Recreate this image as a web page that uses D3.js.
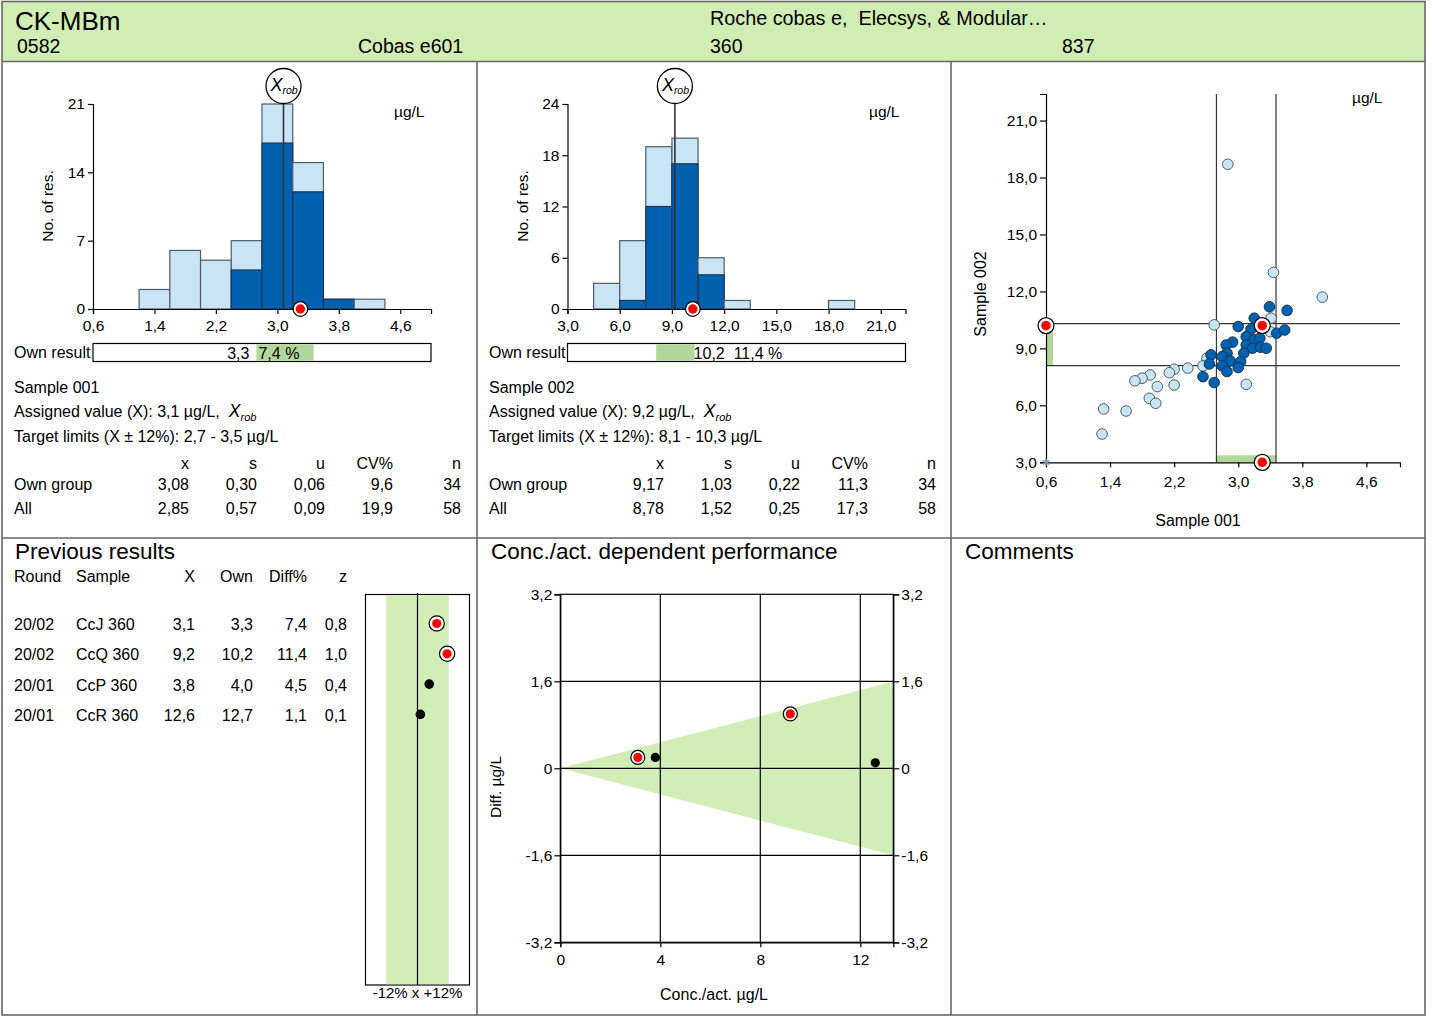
<!DOCTYPE html>
<html>
<head>
<meta charset="utf-8">
<script src="https://cdn.jsdelivr.net/npm/d3@7"></script>
<style>
  body { margin: 0; background: #fff; }
  svg { font-family: "Liberation Sans", Arial, sans-serif; }
  text { white-space: pre; }
</style>
</head>
<body>
<svg id="chart" width="1432" height="1018"></svg>
<script>
// ---- data ----
const analyte = "CK-MBm";
const headerRow1 = ["Roche cobas e,  Elecsys, & Modular…"];
const headerRow2 = ["0582", "Cobas e601", "360", "837"];

// histogram sample 001 (bins 0.4 wide)
const binStart1 = [1.2, 1.6, 2.0, 2.4, 2.8, 3.2, 3.6, 4.0];
const binAll1 = [2, 6, 5, 7, 21, 15, 1, 1];
const binOwn1 = [0, 0, 0, 4, 17, 12, 1, 0];
// histogram sample 002 (bins 1.5 wide)
const binStart2 = [4.5, 6.0, 7.5, 9.0, 10.5, 12.0, 18.0];
const binAll2 = [3, 8, 19, 20, 6, 1, 1];
const binOwn2 = [0, 1, 12, 17, 4, 0, 0];

const sampleNames = ["Sample 001", "Sample 002"];
const assigned = [3.1, 9.2];
const xrob = [3.08, 9.17];
const ownResult = [3.3, 10.2];
const ownPct = [7.4, 11.4];
const limitPct = 12;

const statCols = ["x", "s", "u", "CV%", "n"];
const statDec = [2, 2, 2, 1, 0];
const statsOwn = [[3.08, 0.30, 0.06, 9.6, 34], [9.17, 1.03, 0.22, 11.3, 34]];
const statsAll = [[2.85, 0.57, 0.09, 19.9, 58], [8.78, 1.52, 0.25, 17.3, 58]];

const ticksX1 = [0.6, 1.4, 2.2, 3.0, 3.8, 4.6];
const ticksY1 = [0, 7, 14, 21];
const ticksX2 = [3, 6, 9, 12, 15, 18, 21];
const ticksY2 = [0, 6, 12, 18, 24];

// youden plot
const ownGroupX = [3.39, 3.61, 3.20, 3.00, 3.16, 3.48, 3.58, 2.93, 2.85, 3.10, 3.20, 3.27, 3.10, 3.18,
  3.28, 3.35, 2.86, 2.66, 3.07, 2.80, 2.90, 3.03, 2.64, 2.80, 3.00, 2.86, 2.56, 2.70];
const ownGroupY = [11.19, 11.00, 10.59, 10.15, 10.01, 9.80, 9.97, 9.33, 9.18, 9.62, 9.45, 9.54, 9.18, 9.01,
  9.06, 9.01, 8.75, 8.66, 8.75, 8.57, 8.34, 8.30, 8.18, 8.08, 7.99, 7.78, 7.51, 7.20];
const otherX = [2.87, 3.44, 4.05, 2.70, 3.41, 3.40, 3.10, 2.61, 2.56, 2.37, 2.20, 2.14, 2.20, 1.99,
  1.90, 1.80, 1.71, 1.89, 1.97, 1.32, 1.60, 1.30];
const otherY = [18.7, 13.0, 11.7, 10.24, 10.59, 9.88, 7.11, 8.48, 8.08, 7.96, 7.90, 7.72, 7.07, 6.99,
  7.60, 7.43, 7.29, 6.37, 6.11, 5.81, 5.70, 4.49];
const ticksYouX = [0.6, 1.4, 2.2, 3.0, 3.8, 4.6];
const ticksYouY = [3, 6, 9, 12, 15, 18, 21];

// previous results
const prevRound = ["20/02", "20/02", "20/01", "20/01"];
const prevSample = ["CcJ 360", "CcQ 360", "CcP 360", "CcR 360"];
const prevX = [3.1, 9.2, 3.8, 12.6];
const prevOwn = [3.3, 10.2, 4.0, 12.7];
const prevDiff = [7.4, 11.4, 4.5, 1.1];
const prevZ = [0.8, 1.0, 0.4, 0.1];
const prevCurrent = [true, true, false, false];

const concTicksX = [0, 4, 8, 12];
const concTicksY = [-3.2, -1.6, 0, 1.6, 3.2];

// ---- helpers ----
const svg = d3.select("#chart");
const comma = (v, d) => d3.format("." + d + "f")(v).replace(".", ",").replace("−", "-");
const fmt1 = v => v === 0 ? "0" : comma(v, 1);
const FS = 16;     // body text
const TS = 15.5;   // tick labels
const HS = 22.5;   // panel titles
const GREEN = "#d0eeb6", GREEN2 = "#b3d79b";
const DARK = "#0061b1", LIGHT = "#c8e4f5", BARSTROKE = "#4d5c6b";

function styleAxis(g, size) {
  g.attr("font-family", null).attr("font-size", size);
  g.selectAll("path,line").attr("stroke", "#000").attr("stroke-width", 1.2);
  g.selectAll("text").attr("fill", "#000");
}
function ownMarker(g, cx, cy, ro, ri) {
  g.append("circle").attr("cx", cx).attr("cy", cy).attr("r", ro)
    .attr("fill", "#fff").attr("stroke", "#000").attr("stroke-width", 1.2);
  g.append("circle").attr("cx", cx).attr("cy", cy).attr("r", ri).attr("fill", "#f00");
}
function text(g, x, y, s, size, anchor) {
  return g.append("text").attr("x", x).attr("y", y).attr("font-size", size || FS)
    .attr("text-anchor", anchor || "start").text(s);
}

// ---- header ----
svg.append("rect").attr("x", 2).attr("y", 2).attr("width", 1423).attr("height", 59).attr("fill", "#d0eeb4");
text(svg, 15, 30, analyte, 26);
text(svg, 710, 25, headerRow1[0], 19.8);
[17, 358, 710, 1062].forEach((x, i) => text(svg, x, 53, headerRow2[i], 19.5));

// ---- histograms ----
function drawHist(k, o) {
  const g = svg.append("g");
  const x = d3.scaleLinear().domain(o.domain).range([o.x0, o.x0 + 338]);
  const y = d3.scaleLinear().domain([0, o.yMax]).range([309, 104]);

  o.starts.forEach((s, i) => {
    const bx = x(s), bw = x(s + o.w) - x(s);
    g.append("rect").attr("x", bx).attr("y", y(o.all[i])).attr("width", bw)
      .attr("height", y(0) - y(o.all[i])).attr("fill", LIGHT).attr("stroke", BARSTROKE).attr("stroke-width", 1.2);
    if (o.own[i] > 0)
      g.append("rect").attr("x", bx).attr("y", y(o.own[i])).attr("width", bw)
        .attr("height", y(0) - y(o.own[i])).attr("fill", DARK).attr("stroke", "#1d3650").attr("stroke-width", 1.2);
  });

  // Xrob line and label
  const cx = x(xrob[k]);
  g.append("line").attr("x1", cx).attr("x2", cx).attr("y1", 103).attr("y2", y(0))
    .attr("stroke", "#333").attr("stroke-width", 1.6);
  g.append("circle").attr("cx", cx).attr("cy", 86).attr("r", 17.5)
    .attr("fill", "#fff").attr("stroke", "#000").attr("stroke-width", 1.3);
  g.append("text").attr("x", cx - 13).attr("y", 90.5).attr("font-size", 18).attr("font-style", "italic").text("X");
  g.append("text").attr("x", cx - 1).attr("y", 94).attr("font-size", 10.5).attr("font-style", "italic").text("rob");

  g.append("g").attr("transform", "translate(0,309)")
    .call(d3.axisBottom(x).tickValues(o.ticksX).tickFormat(fmt1).tickSizeOuter(0).tickSize(5).tickPadding(6))
    .call(a => styleAxis(a, TS));
  g.append("g").attr("transform", `translate(${o.x0},0)`)
    .call(d3.axisLeft(y).tickValues(o.ticksY).tickFormat(d3.format("d")).tickSizeOuter(0).tickSize(5).tickPadding(3))
    .call(a => styleAxis(a, TS));

  ownMarker(g, x(ownResult[k]), 309, 7.3, 4.7);

  text(g, o.left + 392, 117, "µg/L", TS);
  g.append("text").attr("transform", `translate(${o.left + 51},206) rotate(-90)`)
    .attr("text-anchor", "middle").attr("font-size", TS).text("No. of res.");

  // own result strip
  const lo = assigned[k] * (1 - limitPct / 100), hi = assigned[k] * (1 + limitPct / 100);
  text(g, o.left + 12, 357.5, "Own result");
  g.append("rect").attr("x", x(o.domain[0])).attr("y", 343.5).attr("width", 338).attr("height", 18)
    .attr("fill", "#fff").attr("stroke", "#000").attr("stroke-width", 1.2);
  g.append("rect").attr("x", x(lo)).attr("y", 344.2).attr("width", x(hi) - x(lo)).attr("height", 16.6).attr("fill", GREEN2);
  if (o.labelAfter) {
    text(g, x(hi) - 1, 358.5, comma(ownResult[k], 1) + "  " + comma(ownPct[k], 1) + " %");
  } else {
    text(g, x(lo) - 7, 358.5, comma(ownResult[k], 1), FS, "end");
    text(g, x(lo) + 2, 358.5, comma(ownPct[k], 1) + " %");
  }

  // text block
  const L = o.left + 12;
  text(g, L, 393, sampleNames[k]);
  const av = g.append("text").attr("x", L).attr("y", 417).attr("font-size", FS);
  av.append("tspan").text("Assigned value (X): " + comma(assigned[k], 1) + " µg/L,");
  av.append("tspan").attr("dx", 9).attr("font-style", "italic").attr("font-size", 17.5).text("X");
  av.append("tspan").attr("dy", 4).attr("font-style", "italic").attr("font-size", 11).text("rob");
  text(g, L, 441.5, "Target limits (X ± " + limitPct + "%): " + comma(lo, 1) + " - " + comma(hi, 1) + " µg/L");

  const colX = [187, 255, 323, 391, 459].map(c => o.left + c);
  statCols.forEach((c, j) => text(g, colX[j], 469, c, FS, "end"));
  text(g, L, 490, "Own group");
  text(g, L, 514, "All");
  statsOwn[k].forEach((v, j) => text(g, colX[j], 490, comma(v, statDec[j]), FS, "end"));
  statsAll[k].forEach((v, j) => text(g, colX[j], 514, comma(v, statDec[j]), FS, "end"));
}

drawHist(0, { left: 2, x0: 93, domain: [0.6, 5.0], yMax: 21, starts: binStart1, w: 0.4,
  all: binAll1, own: binOwn1, ticksX: ticksX1, ticksY: ticksY1, labelAfter: false });
drawHist(1, { left: 477, x0: 567.5, domain: [3, 22.42], yMax: 24, starts: binStart2, w: 1.5,
  all: binAll2, own: binOwn2, ticksX: ticksX2, ticksY: ticksY2, labelAfter: true });

// ---- youden plot ----
(function () {
  const g = svg.append("g");
  const x = d3.scaleLinear().domain([0.6, 5.02]).range([1046, 1400]);
  const y = d3.scaleLinear().domain([3, 22.4]).range([462.3, 94]);
  const lo1 = assigned[0] * 0.88, hi1 = assigned[0] * 1.12;
  const lo2 = assigned[1] * 0.88, hi2 = assigned[1] * 1.12;

  g.append("rect").attr("x", x(lo1)).attr("y", y(3) - 7).attr("width", x(hi1) - x(lo1)).attr("height", 7).attr("fill", GREEN2);
  g.append("rect").attr("x", x(0.6)).attr("y", y(hi2)).attr("width", 7).attr("height", y(lo2) - y(hi2)).attr("fill", GREEN2);

  [lo1, hi1].forEach(v => g.append("line").attr("x1", x(v)).attr("x2", x(v)).attr("y1", y(22.4)).attr("y2", y(3))
    .attr("stroke", "#333").attr("stroke-width", 1.2));
  [lo2, hi2].forEach(v => g.append("line").attr("x1", x(0.6)).attr("x2", x(5.02)).attr("y1", y(v)).attr("y2", y(v))
    .attr("stroke", "#333").attr("stroke-width", 1.2));

  g.selectAll(".oth").data(otherX).join("circle").attr("class", "oth")
    .attr("cx", d => x(d)).attr("cy", (d, i) => y(otherY[i])).attr("r", 5.3)
    .attr("fill", LIGHT).attr("stroke", "#4d5c6b").attr("stroke-width", 1);
  g.selectAll(".own").data(ownGroupX).join("circle").attr("class", "own")
    .attr("cx", d => x(d)).attr("cy", (d, i) => y(ownGroupY[i])).attr("r", 5.3)
    .attr("fill", DARK).attr("stroke", "#1d3650").attr("stroke-width", 1);

  g.append("g").attr("transform", "translate(0,462.3)")
    .call(d3.axisBottom(x).tickValues(ticksYouX).tickFormat(fmt1).tickSizeOuter(0).tickSize(5).tickPadding(9))
    .call(a => styleAxis(a, TS));
  g.append("g").attr("transform", "translate(1046,0)")
    .call(d3.axisLeft(y).tickValues(ticksYouY).tickFormat(fmt1).tickSizeOuter(0).tickSize(6).tickPadding(3))
    .call(a => styleAxis(a, TS));

  g.append("path").attr("transform", `translate(${x(0.6)},${y(3)})`)
    .attr("d", d3.symbol(d3.symbolAsterisk, 40)()).attr("stroke", "#7b97ab").attr("stroke-width", 1.6).attr("fill", "none");

  ownMarker(g, x(ownResult[0]), y(ownResult[1]), 8, 4.8);
  ownMarker(g, x(0.6), y(ownResult[1]), 8, 4.8);
  ownMarker(g, x(ownResult[0]), y(3), 8, 4.8);

  text(g, 1352, 103, "µg/L", TS);
  text(g, 1198, 526, "Sample 001", 16, "middle");
  g.append("text").attr("transform", "translate(986,294) rotate(-90)").attr("text-anchor", "middle")
    .attr("font-size", 16).text("Sample 002");
})();

// ---- previous results ----
(function () {
  const g = svg.append("g");
  text(g, 15, 559, "Previous results", HS);
  text(g, 14, 582, "Round");
  text(g, 76, 582, "Sample");
  text(g, 195, 582, "X", FS, "end");
  text(g, 253, 582, "Own", FS, "end");
  text(g, 307, 582, "Diff%", FS, "end");
  text(g, 347, 582, "z", FS, "end");

  const rowY = i => 630 + i * 30.3;
  prevRound.forEach((r, i) => {
    text(g, 14, rowY(i), r);
    text(g, 76, rowY(i), prevSample[i]);
    text(g, 195, rowY(i), comma(prevX[i], 1), FS, "end");
    text(g, 253, rowY(i), comma(prevOwn[i], 1), FS, "end");
    text(g, 307, rowY(i), comma(prevDiff[i], 1), FS, "end");
    text(g, 347, rowY(i), comma(prevZ[i], 1), FS, "end");
  });

  const x = d3.scaleLinear().domain([-20, 20]).range([365.5, 469.5]);
  g.append("rect").attr("x", x(-20)).attr("y", 594.5).attr("width", x(20) - x(-20)).attr("height", 390.5)
    .attr("fill", "#fff").attr("stroke", "#000").attr("stroke-width", 1.2);
  g.append("rect").attr("x", x(-limitPct)).attr("y", 595.2).attr("width", x(limitPct) - x(-limitPct))
    .attr("height", 389).attr("fill", GREEN);
  g.append("line").attr("x1", x(0)).attr("x2", x(0)).attr("y1", 593).attr("y2", 985)
    .attr("stroke", "#000").attr("stroke-width", 1.2);
  prevDiff.forEach((d, i) => {
    if (prevCurrent[i]) ownMarker(g, x(d), rowY(i) - 6.5, 7.6, 4.6);
    else g.append("circle").attr("cx", x(d)).attr("cy", rowY(i) - 6.5).attr("r", 4.8).attr("fill", "#000");
  });
  text(g, x(0), 998, "-12% x +12%", 15, "middle");
})();

// ---- conc./act. dependent performance ----
(function () {
  const g = svg.append("g");
  text(g, 491, 559, "Conc./act. dependent performance", HS);
  const xMax = 13.32;
  const x = d3.scaleLinear().domain([0, xMax]).range([560.3, 893.3]);
  const y = d3.scaleLinear().domain([-3.2, 3.2]).range([942.3, 594.3]);

  const band = d3.area().x(d => x(d)).y0(d => y(-d * limitPct / 100)).y1(d => y(d * limitPct / 100));
  g.append("path").datum([0, xMax]).attr("d", band).attr("fill", GREEN);

  concTicksX.slice(1).forEach(v => g.append("line").attr("x1", x(v)).attr("x2", x(v))
    .attr("y1", y(3.2)).attr("y2", y(-3.2)).attr("stroke", "#000").attr("stroke-width", 1.2));
  [-1.6, 0, 1.6].forEach(v => g.append("line").attr("x1", x(0)).attr("x2", x(xMax))
    .attr("y1", y(v)).attr("y2", y(v)).attr("stroke", "#000").attr("stroke-width", 1.2));
  g.append("rect").attr("x", x(0)).attr("y", y(3.2)).attr("width", x(xMax) - x(0)).attr("height", y(-3.2) - y(3.2))
    .attr("fill", "none").attr("stroke", "#000").attr("stroke-width", 1.2);

  g.append("g").attr("transform", `translate(${x(0)},0)`)
    .call(d3.axisLeft(y).tickValues(concTicksY).tickFormat(fmt1).tickSizeOuter(0).tickSize(6).tickPadding(2))
    .call(a => styleAxis(a, TS));
  g.append("g").attr("transform", `translate(${x(xMax)},0)`)
    .call(d3.axisRight(y).tickValues(concTicksY).tickFormat(fmt1).tickSizeOuter(0).tickSize(6).tickPadding(2))
    .call(a => styleAxis(a, TS));
  g.append("g").attr("transform", `translate(0,${y(-3.2)})`)
    .call(d3.axisBottom(x).tickValues(concTicksX).tickFormat(d3.format("d")).tickSizeOuter(0).tickSize(5).tickPadding(7))
    .call(a => styleAxis(a, TS));

  prevX.forEach((v, i) => {
    const d = prevOwn[i] - v;
    if (prevCurrent[i]) ownMarker(g, x(v), y(d), 7, 4.6);
    else g.append("circle").attr("cx", x(v)).attr("cy", y(d)).attr("r", 4.6).attr("fill", "#000");
  });

  text(g, 714, 1000, "Conc./act. µg/L", 16, "middle");
  g.append("text").attr("transform", "translate(501,787) rotate(-90)").attr("text-anchor", "middle")
    .attr("font-size", TS).text("Diff. µg/L");
})();

// ---- comments ----
text(svg, 965, 559, "Comments", HS);

// ---- frame ----
const frame = svg.append("g").attr("stroke", "#666").attr("stroke-width", 1.6).attr("fill", "none");
frame.append("rect").attr("x", 2).attr("y", 1.5).attr("width", 1423).attr("height", 1013.5);
frame.append("line").attr("x1", 2).attr("x2", 1425).attr("y1", 61.5).attr("y2", 61.5);
frame.append("line").attr("x1", 2).attr("x2", 1425).attr("y1", 538).attr("y2", 538);
frame.append("line").attr("x1", 477).attr("x2", 477).attr("y1", 61.5).attr("y2", 1015);
frame.append("line").attr("x1", 951).attr("x2", 951).attr("y1", 61.5).attr("y2", 1015);
</script>
</body>
</html>
